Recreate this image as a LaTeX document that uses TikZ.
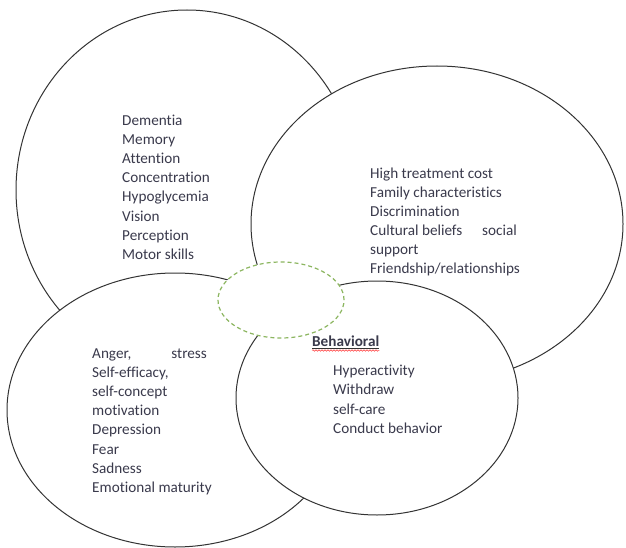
\documentclass[tikz,border=0pt]{standalone}
\usepackage{fontspec}
\setmainfont[Ligatures={NoCommon}]{Carlito}
\usetikzlibrary{shapes.geometric,decorations.pathmorphing}
\definecolor{txt}{RGB}{58,58,76}
\definecolor{dgreen}{RGB}{140,182,96}
\begin{document}
\begin{tikzpicture}[x=1pt,y=-1pt,
  circ/.style={ellipse, draw=black!80, line width=1pt, fill=white, inner sep=0pt},
  lbl/.style={anchor=base west, inner sep=0pt, text=txt, font=\fontsize{15.2}{19}\selectfont},
  lblr/.style={lbl, anchor=base east}]
\useasboundingbox (0,0) rectangle (626,548);
\fill[white] (0,0) rectangle (626,548);
% ellipses (drawing order matters)
\node[circ, minimum width=342pt, minimum height=360pt] (cog) at (187,190) {};
\node[circ, minimum width=372pt, minimum height=316pt] (soc) at (437,224) {};
\node[circ, minimum width=336pt, minimum height=274pt] (emo) at (175,410) {};
\node[circ, minimum width=282pt, minimum height=234pt] (beh) at (377,398) {};
\node[ellipse, draw=dgreen, line width=1.2pt, dash pattern=on 4pt off 3pt, fill=white,
      minimum width=126pt, minimum height=76pt, inner sep=0pt] (core) at (281,300) {};
% cognitive
\foreach \t [count=\i from 0] in {Dementia,Memory,Attention,Concentration,Hypoglycemia,Vision,Perception,Motor skills}
  \node[lbl] (c\i) at (122,{125.5+19.1*\i}) {\t};
% social
\foreach \t [count=\i from 0] in {High treatment cost,Family characteristics,Discrimination,Cultural beliefs,support,Friendship/relationships}
  \node[lbl] (s\i) at (370,{178.5+19*\i}) {\t};
\node[lblr] (s3b) at (517,235.5) {social};
% emotional
\foreach \t [count=\i from 0] in {{Anger,},{Self-efficacy,},self-concept,motivation,Depression,Fear,Sadness,Emotional maturity}
  \node[lbl] (e\i) at (92,{358.5+19.1*\i}) {\t};
\node[lblr] (e0b) at (207,358.5) {stress};
% behavioral
\node[lbl, font=\fontsize{15.2}{19}\selectfont\bfseries] (bt) at (312,346.5) {Behavioral};
\draw[black!80, line width=0.6pt] (bt.base west) ++(0,2) coordinate (u1) -- (bt.base east |- u1) coordinate (u2);
\draw[red!80, line width=0.5pt, decorate, decoration={snake, amplitude=0.8pt, segment length=3pt}]
  ([yshift=-2pt]u1) -- ([yshift=-2pt]u2);
\foreach \t [count=\i from 0] in {Hyperactivity,Withdraw,self-care,Conduct behavior}
  \node[lbl] (b\i) at (333,{375.5+19.3*\i}) {\t};
\end{tikzpicture}
\end{document}
